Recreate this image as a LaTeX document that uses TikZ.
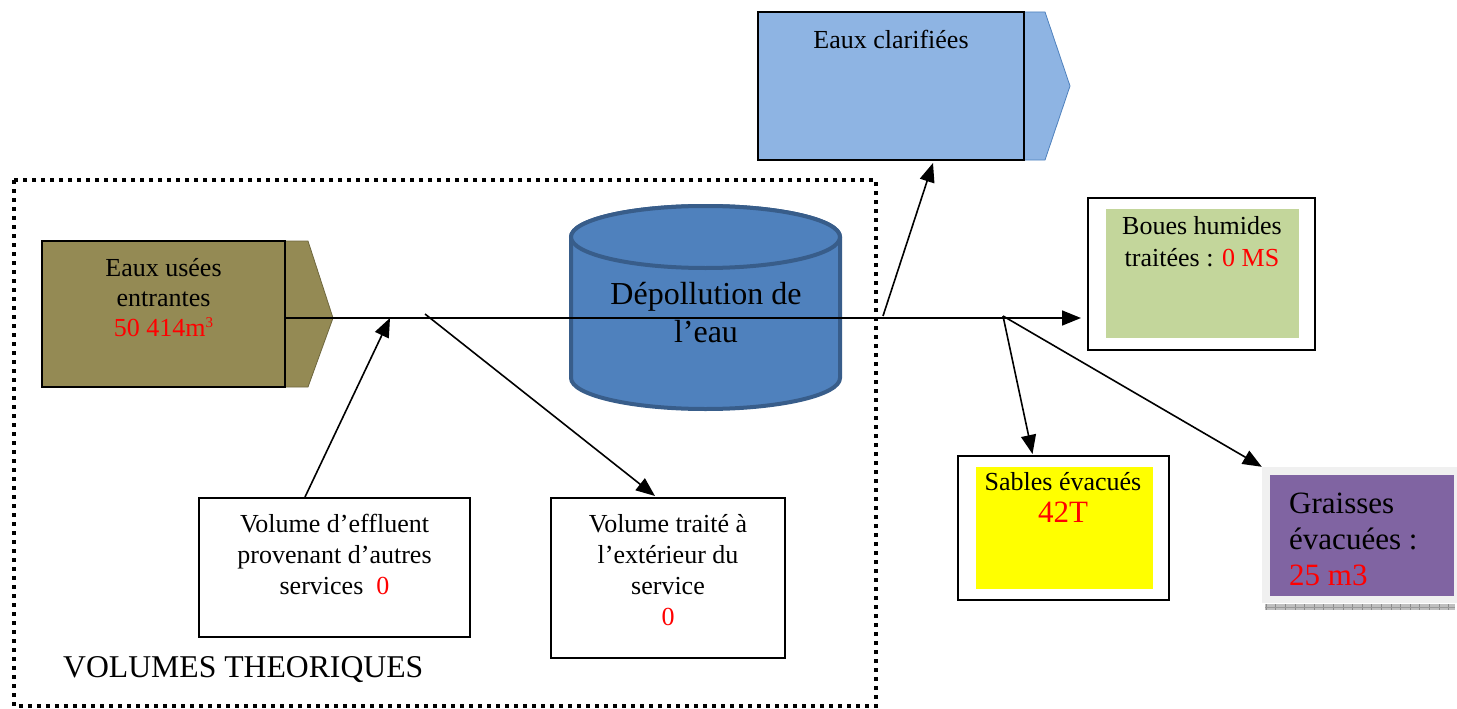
\documentclass[tikz,border=0pt]{standalone}
\usepackage{fontspec}
\setmainfont{Liberation Serif}
\usetikzlibrary{arrows.meta,calc}
\definecolor{olivefill}{HTML}{948A54}
\definecolor{oliveedge}{HTML}{6E673E}
\definecolor{bluefill}{HTML}{8EB4E3}
\definecolor{blueedge}{HTML}{4F81BD}
\definecolor{cylfill}{HTML}{4F81BD}
\definecolor{cyledge}{HTML}{385D8A}
\definecolor{greenfill}{HTML}{C3D69B}
\definecolor{yellowfill}{HTML}{FFFF00}
\definecolor{purplefill}{HTML}{8064A2}
\definecolor{graybg}{HTML}{F0F0F0}
\definecolor{redtxt}{HTML}{FF0000}
\tikzset{
  box/.style={draw=black,line width=2pt,inner sep=0pt,fill=white},
  frame/.style={draw=black,line width=2pt,inner sep=0pt},
  arr/.style={line width=1.6pt,-{Triangle[length=19pt,width=15pt]}},
  txt/.style={inner sep=0pt,align=center,font=\fontsize{26}{31}\selectfont},
  dotbox/.style={line width=4pt,dash pattern=on 4pt off 5pt},
  cyl/.style={fill=cylfill,draw=cyledge,line width=4pt}
}
\begin{document}
\begin{tikzpicture}[x=1pt,y=-1pt]
\useasboundingbox (0,0) rectangle (1457,709);

% dotted frame
\draw[dotbox] (14,180) rectangle (876,706);

% entrance pentagon
\fill[olivefill,draw=oliveedge,line width=0.8pt] (42,241) -- (308,241) -- (333,318) -- (308,387) -- (42,387) -- cycle;
\node[frame,minimum width=243pt,minimum height=146pt] (entree) at (163.5,314) {};
\node[txt,anchor=north] (entreetxt) at (163.5,258.5) {Eaux usées\\[-1pt]entrantes\\[-1pt]{\color{redtxt}50 414m\raisebox{9pt}{\fontsize{15}{17}\selectfont 3}}};

% clarified water pentagon
\fill[bluefill,draw=blueedge,line width=0.8pt] (758,12) -- (1045,12) -- (1070,86) -- (1045,160) -- (758,160) -- cycle;
\node[frame,minimum width=266pt,minimum height=148pt] (clar) at (891,86) {};
\node[txt,anchor=north] (clartxt) at (891,30) {Eaux clarifiées};

% cylinder
\path[cyl] (571,237) -- (571,378) arc[start angle=180,end angle=0,x radius=134.5,y radius=31] -- (840,237) arc[start angle=0,end angle=-180,x radius=134.5,y radius=31] -- cycle;
\draw[cyl] (705.5,237) ellipse[x radius=134.5,y radius=31];

% junction coordinates
\coordinate (start) at (285,318);
\coordinate (j1) at (390,318);
\coordinate (j2) at (425,314);
\coordinate (j3) at (883,316);
\coordinate (j4) at (1003,316);

% boxes
\node[box,minimum width=271pt,minimum height=139pt] (eff) at (334.5,567.5) {};
\node[txt,anchor=north] (efftxt) at (334.5,514) {Volume d’effluent\\provenant d’autres\\services~~{\color{redtxt}0}};

\node[box,minimum width=234pt,minimum height=160pt] (traite) at (668,578) {};
\node[txt,anchor=north] (traitetxt) at (668,514) {Volume traité à\\l’extérieur du\\service\\{\color{redtxt}0}};

\node[box,minimum width=227pt,minimum height=152pt] (boues) at (1201.5,274) {};
\fill[greenfill] (1106,209) rectangle (1299,338);
\node[txt,anchor=north,font=\fontsize{26}{32}\selectfont] (bouestxt) at (1202,216) {Boues humides\\traitées : {\color{redtxt}0 MS}};

\node[box,minimum width=211pt,minimum height=144pt] (sables) at (1063.5,528) {};
\fill[yellowfill] (976,467) rectangle (1153,589);
\node[txt,anchor=north] (sablestxt) at (1063,472) {Sables évacués\\[1pt]{\fontsize{31}{34}\selectfont\color{redtxt}42T}};

\node[fill=graybg,inner sep=0pt,minimum width=195pt,minimum height=136pt] (graisses) at (1359.5,535) {};
\fill[purplefill] (1270,475) rectangle (1454,596);
\node[inner sep=0pt,align=left,anchor=north west,font=\fontsize{31}{36}\selectfont] (graissestxt) at (1289,493) {Graisses\\évacuées :\\{\color{redtxt}25 m3}};
\fill[black!25] (1265,604) rectangle (1455,610);
\foreach \i in {0,...,19} {\draw[black!45,line width=0.6pt] (1266+\i*9.6,604) -- (1266+\i*9.6,610);}
\draw[black!40,line width=0.6pt] (1265,607) -- (1455,607);

% cylinder label
\node[txt,anchor=north,font=\fontsize{32}{38}\selectfont] (cyltxt) at (706,282) {Dépollution de\\l’eau};

% connectors
\draw[arr] (start) -- ($(boues.west |- start)+(-6,0)$);
\draw[arr] ($(eff.north west)+(107,0)$) -- (j1);
\draw[arr] (j2) -- ($(traite.north)+(-13,-1)$);
\draw[arr] (j3) -- ($(clar.south)+(42,2)$);
\draw[arr] (j4) -- ($(sables.north)+(-31,-1)$);
\draw[arr] (j4) -- (graisses.north west);

% label
\node[inner sep=0pt,anchor=base west,font=\fontsize{31.7}{36}\selectfont] (voltxt) at (63,677) {VOLUMES THEORIQUES};
\end{tikzpicture}
\end{document}
